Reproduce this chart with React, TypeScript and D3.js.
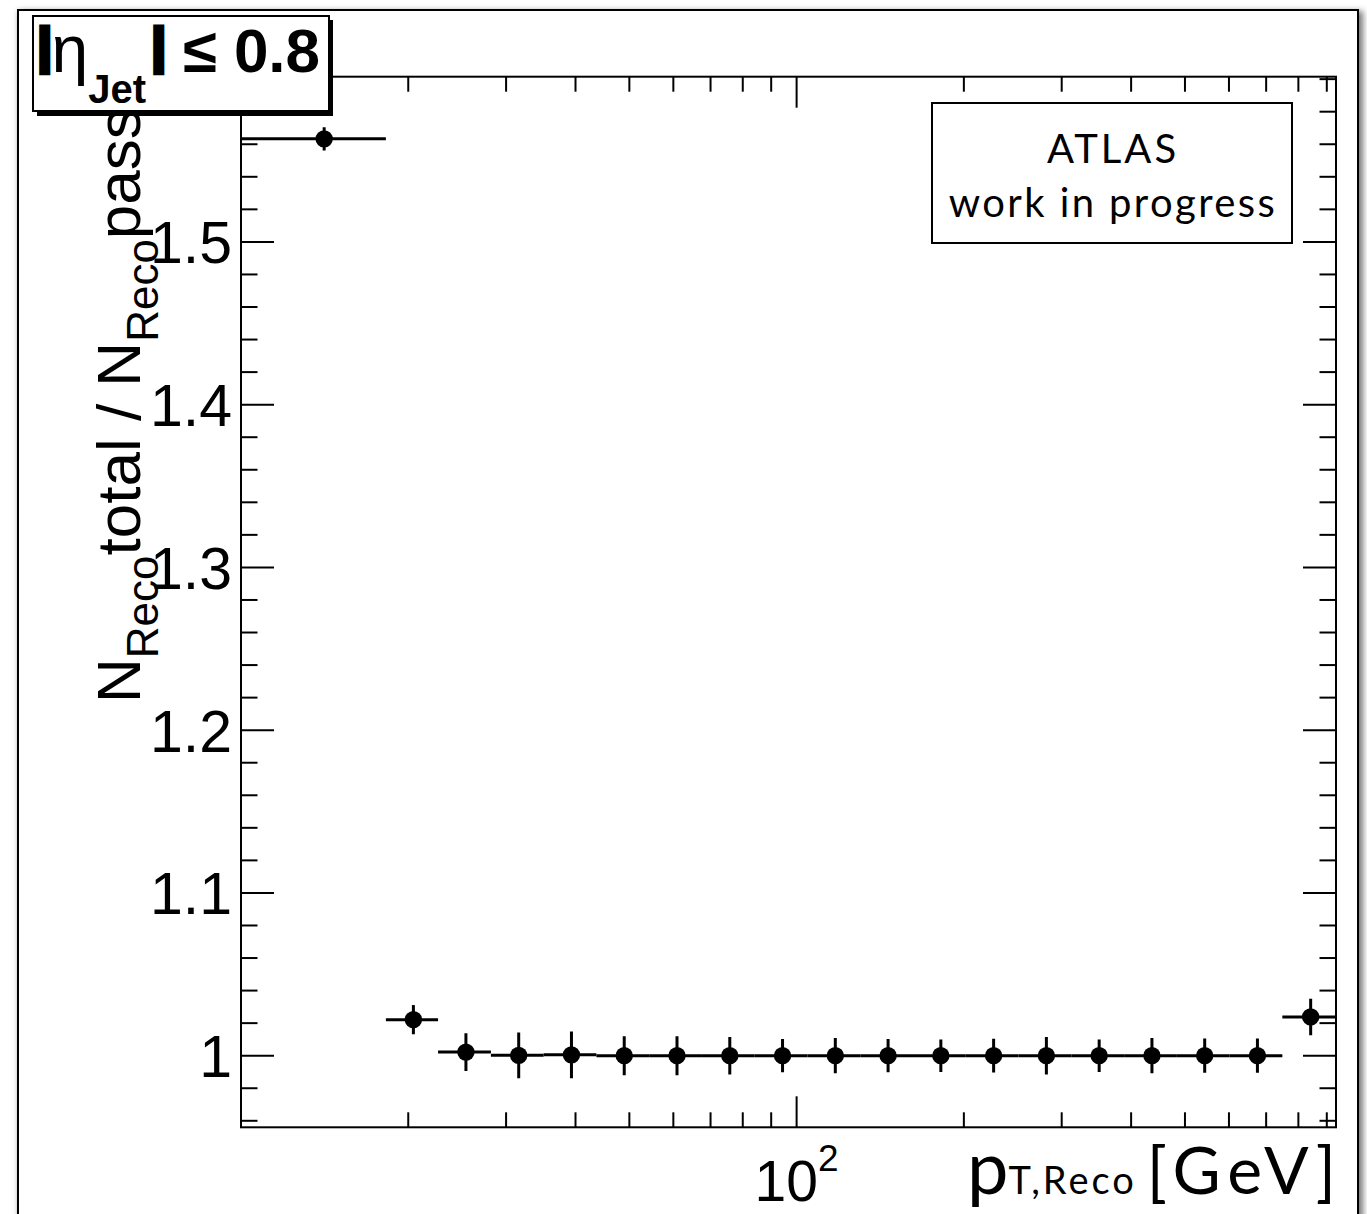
import React from 'react';
import * as d3 from 'd3';

// ---- data ----
const binEdges = [10, 18.23, 22.63, 28.17, 35.05, 43.62, 54.28, 67.55, 84.07, 104.6, 130.2, 162.0, 201.6, 250.9, 312.2, 388.6, 483.5, 601.7, 748.6, 935];
const ratioValues = [1.5633, 1.0221, 1.0022, 1.0002, 1.0005, 1.0, 1.0, 1.0, 1.0, 1.0, 1.0, 1.0, 1.0, 1.0, 1.0, 1.0, 1.0, 1.0, 1.0238];
const ratioErrors = [0.0071, 0.009, 0.0116, 0.014, 0.0143, 0.012, 0.012, 0.0115, 0.0102, 0.0108, 0.0102, 0.01, 0.0104, 0.0115, 0.01, 0.0108, 0.0105, 0.0105, 0.0112];

const yMajorTicks = [1.0, 1.1, 1.2, 1.3, 1.4, 1.5];
const yTickLabels = ['1', '1.1', '1.2', '1.3', '1.4', '1.5'];
const xMinorTicks = [20, 30, 40, 50, 60, 70, 80, 90, 200, 300, 400, 500, 600, 700, 800, 900];
const xMajorTicks = [100];
const xDomain = [10, 935];
const yDomain = [0.956, 1.6015];

const W = 1367;
const H = 1214;
const frame = { left: 241, right: 1336, top: 76.7, bottom: 1127.3 };

const helv = "'Liberation Sans', Arial, Helvetica, sans-serif";
const gill = "Lato, 'Open Sans', sans-serif";

export default function App() {
  const x = d3.scaleLog().domain(xDomain).range([frame.left, frame.right]);
  const y = d3.scaleLinear().domain(yDomain).range([frame.bottom, frame.top]);
  const yMinor = d3.range(0.96, 1.6001, 0.02).filter(
    (v) => !yMajorTicks.some((m) => Math.abs(m - v) < 1e-6)
  );

  const points = ratioValues.map((v, i) => {
    const lo = binEdges[i];
    const hi = binEdges[i + 1];
    const c = (lo + hi) / 2;
    return { lo, hi, c, v, e: ratioErrors[i] };
  });

  const majLen = 33;
  const minLen = 16.5;
  const xMinLen = 15;
  const xMajLen = 31;

  return (
    <svg
      width={W}
      height={H}
      style={{ position: 'absolute', left: 0, top: 0, background: 'white' }}
    >
      <defs>
        <filter id="shadow" x="-5%" y="-5%" width="110%" height="110%">
          <feGaussianBlur stdDeviation="3" />
        </filter>
        <clipPath id="plotclip">
          <rect x={frame.left} y={frame.top} width={frame.right - frame.left} height={frame.bottom - frame.top} />
        </clipPath>
      </defs>

      {/* outer picture frame with shadow */}
      <rect x={19} y={11} width={1344} height={1240} fill="#777" filter="url(#shadow)" />
      <rect x={18} y={10} width={1340} height={1240} fill="white" stroke="black" strokeWidth={2} />

      {/* plot frame */}
      <rect
        x={frame.left}
        y={frame.top}
        width={frame.right - frame.left}
        height={frame.bottom - frame.top}
        fill="none"
        stroke="black"
        strokeWidth={2}
      />

      {/* ticks */}
      <g stroke="black" strokeWidth={2}>
        {yMajorTicks.map((t) => (
          <g key={'ym' + t}>
            <line x1={frame.left} x2={frame.left + majLen} y1={y(t)} y2={y(t)} />
            <line x1={frame.right} x2={frame.right - majLen} y1={y(t)} y2={y(t)} />
          </g>
        ))}
        {yMinor.map((t) => (
          <g key={'yn' + t}>
            <line x1={frame.left} x2={frame.left + minLen} y1={y(t)} y2={y(t)} />
            <line x1={frame.right} x2={frame.right - minLen} y1={y(t)} y2={y(t)} />
          </g>
        ))}
        {xMinorTicks.map((t) => (
          <g key={'xn' + t}>
            <line x1={x(t)} x2={x(t)} y1={frame.bottom} y2={frame.bottom - xMinLen} />
            <line x1={x(t)} x2={x(t)} y1={frame.top} y2={frame.top + xMinLen} />
          </g>
        ))}
        {xMajorTicks.map((t) => (
          <g key={'xm' + t}>
            <line x1={x(t)} x2={x(t)} y1={frame.bottom} y2={frame.bottom - xMajLen} />
            <line x1={x(t)} x2={x(t)} y1={frame.top} y2={frame.top + xMajLen} />
          </g>
        ))}
      </g>

      {/* y tick labels */}
      <g fontFamily={helv} fontSize={59} textAnchor="end">
        {yMajorTicks.map((t, i) => (
          <text key={'yl' + t} x={232} y={y(t) + 21.5}>
            {yTickLabels[i]}
          </text>
        ))}
      </g>

      {/* x tick label 10^2 */}
      {xMajorTicks.map((t) => (
        <text key={'xl' + t} x={x(t)} y={1201} fontFamily={helv} fontSize={57} textAnchor="middle">
          10<tspan fontSize={37} dy={-30}>2</tspan>
        </text>
      ))}

      {/* data */}
      <g clipPath="url(#plotclip)">
        {points.map((p, i) => (
          <g key={'p' + i} stroke="black" strokeWidth={3}>
            <line x1={x(p.lo)} x2={x(p.hi)} y1={y(p.v)} y2={y(p.v)} />
            <line x1={x(p.c)} x2={x(p.c)} y1={y(p.v - p.e)} y2={y(p.v + p.e)} />
            <circle cx={x(p.c)} cy={y(p.v)} r={8.7} fill="black" stroke="none" />
          </g>
        ))}
      </g>

      {/* y axis title */}
      <text
        transform="rotate(-90)"
        x={-703}
        y={140}
        fontFamily={helv}
        fontSize={62}
      >
        N<tspan fontSize={44} dy={18}>Reco</tspan>
        <tspan dy={-18}>total / N</tspan>
        <tspan fontSize={44} dy={18}>Reco</tspan>
        <tspan dy={-18}>pass</tspan>
      </text>

      {/* x axis title */}
      <text x={1336} y={1194} fontFamily={gill} fontSize={66} textAnchor="end">
        <tspan fontSize={74}>p</tspan>
        <tspan fontSize={38} letterSpacing={3}>T,Reco</tspan>
        <tspan dx={10} letterSpacing={7}>[GeV</tspan>
        <tspan>]</tspan>
      </text>

      {/* eta label box */}
      <rect x={37} y={20} width={296} height={96} fill="black" />
      <rect x={33} y={16} width={296} height={95} fill="white" stroke="black" strokeWidth={2} />
      <text x={38} y={72} fontFamily={helv} fontWeight="bold" fontSize={62}>
        <tspan fontSize={48} dy={-10} stroke="black" strokeWidth={5}>|</tspan>
        <tspan fontSize={66} fontWeight="normal" dy={10}>η</tspan>
        <tspan fontSize={40} dy={31}>Jet</tspan>
        <tspan fontSize={48} dx={6} dy={-41} stroke="black" strokeWidth={5}>|</tspan>
        <tspan dy={10}> ≤ 0.8</tspan>
      </text>

      {/* ATLAS box */}
      <rect x={932} y={103} width={360} height={140} fill="white" stroke="black" strokeWidth={2} />
      <text x={1113} y={163} fontFamily={gill} fontSize={40} letterSpacing={3} textAnchor="middle">
        ATLAS
      </text>
      <text x={1113} y={217} fontFamily={gill} fontSize={40} letterSpacing={2.4} textAnchor="middle">
        work in progress
      </text>
    </svg>
  );
}
